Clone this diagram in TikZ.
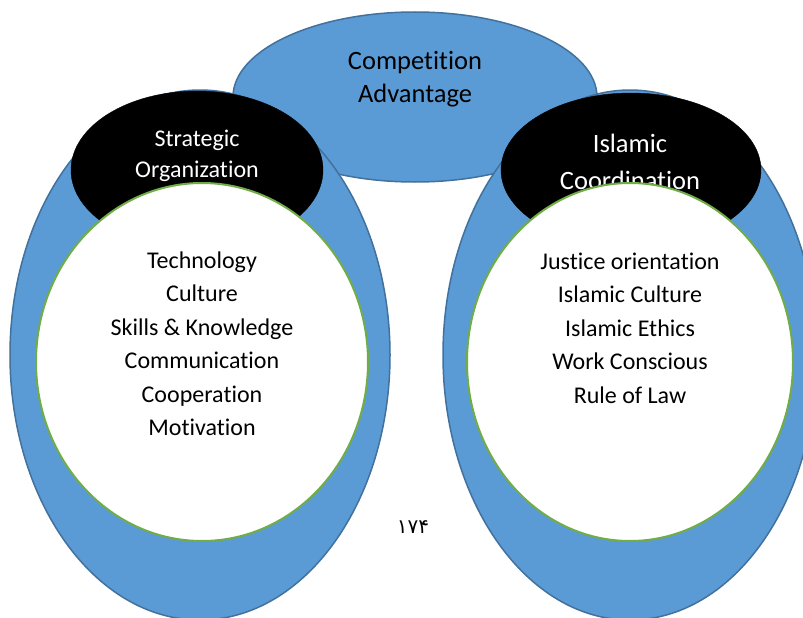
\documentclass[tikz,border=0pt]{standalone}
\usepackage{fontspec}
\setmainfont{Carlito}[Ligatures=CommonOff]
\newfontfamily\arabicfont[Script=Arabic]{DejaVu Sans}
\definecolor{officeblue}{RGB}{91,155,213}
\definecolor{blueline}{RGB}{65,113,156}
\definecolor{greenline}{RGB}{112,173,71}

\begin{document}
\begin{tikzpicture}[x=1pt,y=1pt,yscale=-1,
  outerring/.style={fill=officeblue,draw=blueline,line width=1.5pt},
  capshape/.style={fill=black,draw=black},
  innerring/.style={fill=white,draw=greenline,line width=2pt},
  listtext/.style={font=\fontsize{24}{33.5}\selectfont,align=center,inner sep=0pt}]
\useasboundingbox (0,0) rectangle (803,618);
\fill[white] (0,0) rectangle (803,618);

\begin{scope}
\clip (0,0) rectangle (803,618);
%Shape: Ellipse [top]
\draw[outerring] (415,97) ellipse [x radius=182,y radius=85];
%Shape: Ellipse [left outer]
\draw[outerring] (200,355) ellipse [x radius=190,y radius=265];
%Shape: Ellipse [right outer]
\draw[outerring] (630,355) ellipse [x radius=187,y radius=265];
%Shape: Ellipse [left cap]
\draw[capshape] (197,170) ellipse [x radius=126,y radius=79];
%Shape: Ellipse [right cap]
\draw[capshape] (631,170) ellipse [x radius=130,y radius=77];

% Text Node
\node[listtext,text=white,font=\fontsize{24}{31}\selectfont] (stratorg) at (197,156) {Strategic\\Organization};
% Text Node
\node[listtext,text=white,font=\fontsize{26.5}{37}\selectfont] (islcoord) at (630,162) {Islamic\\Coordination};

%Shape: Ellipse [left inner]
\draw[innerring] (202,362) ellipse [x radius=166,y radius=179];
%Shape: Ellipse [right inner]
\draw[innerring] (630,362) ellipse [x radius=163,y radius=179];
\end{scope}

% Text Node
\node[listtext,font=\fontsize{26.5}{33}\selectfont] (compadv) at (415,79) {Competition\\Advantage};
% Text Node
\node[listtext] (leftlist) at (202,344) {Technology\\Culture\\Skills \& Knowledge\\Communication\\Cooperation\\Motivation};
% Text Node
\node[listtext] (rightlist) at (630,328) {Justice orientation\\Islamic Culture\\Islamic Ethics\\Work Conscious\\Rule of Law};
% Text Node
\node[inner sep=0pt,font=\arabicfont\fontsize{20}{24}\selectfont] (pagenum) at (413,527) {۱۷۴};

\end{tikzpicture}
\end{document}
